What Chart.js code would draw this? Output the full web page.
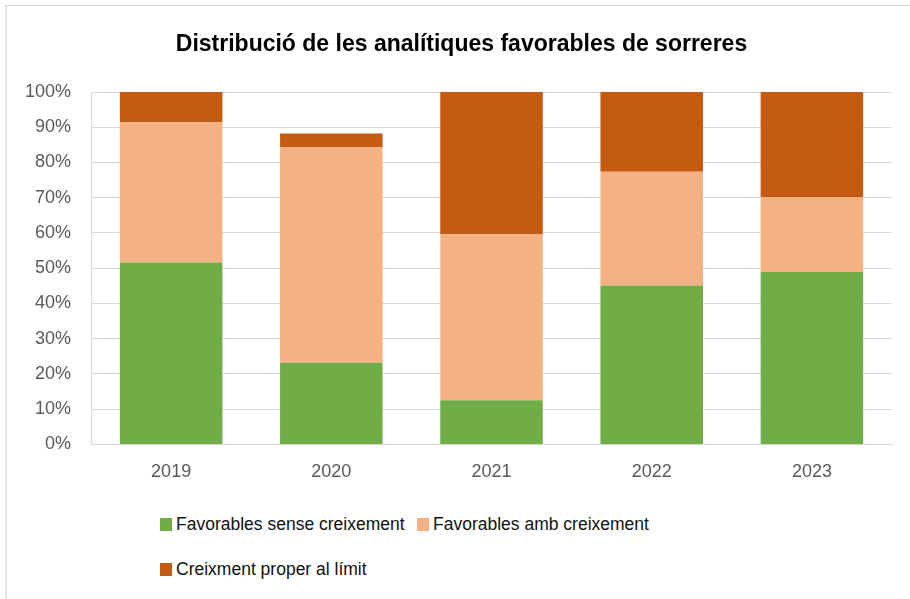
<!DOCTYPE html>
<html>
<head>
<meta charset="utf-8">
<script src="https://cdn.jsdelivr.net/npm/chart.js@4.4.0/dist/chart.umd.min.js"></script>
<style>
    body{margin:0;background:#fff;}
    #wrap{position:relative;width:910px;height:599px;overflow:hidden;}
    #frame{position:absolute;left:5px;top:5px;width:1000px;height:1000px;border-top:1px solid #d9d9d9;border-left:2px solid #e3e3e3;}
    #chart{position:absolute;left:0;top:0;}
    #title{position:absolute;left:0;top:29px;width:923px;text-align:center;font-family:"Liberation Sans",Arial,sans-serif;font-size:23px;font-weight:bold;line-height:28px;color:#000;}
    .item{position:absolute;font-family:"Liberation Sans",Arial,sans-serif;font-size:17.5px;color:#111;white-space:nowrap;line-height:20px;}
    .item i{display:inline-block;width:12px;height:13px;margin-right:4px;vertical-align:-1px;}
</style>
</head>
<body>
<div id="wrap">
    <div id="frame"></div>
    <canvas id="chart" width="910" height="510"></canvas>
    <div id="title"></div>
    <div id="legend"></div>
</div>
<script>
//Data
const chartTitle = 'Distribució de les analítiques favorables de sorreres';
const years = ['2019','2020','2021','2022','2023'];
const seriesNames = ['Favorables sense creixement','Favorables amb creixement','Creixment proper al límit'];
const sense = [51.6, 23.2, 12.5, 45.1, 48.9];
const amb = [39.8, 61.1, 47.1, 32.3, 21.2];
const proper = [8.6, 3.9, 40.4, 22.6, 29.9];
const yTicks = [0,10,20,30,40,50,60,70,80,90,100];

const colors = ['#70AD47','#F4B183','#C55A11'];

document.querySelector('#title').innerText = chartTitle;

const ctx = document.querySelector('#chart');

const theChart = new Chart(ctx,{
    type:'bar',
    data:{
        labels: years,
        datasets:[
            {label: seriesNames[0], data: sense, backgroundColor: colors[0]},
            {label: seriesNames[1], data: amb, backgroundColor: colors[1]},
            {label: seriesNames[2], data: proper, backgroundColor: colors[2]}
        ]
    },
    options:{
        responsive:false,
        animation:false,
        maintainAspectRatio:false,
        datasets:{
            bar:{barPercentage:0.64, categoryPercentage:1}
        },
        layout:{
            padding:{left:5, right:18, top:92, bottom:10}
        },
        plugins:{
            legend:{display:false},
            tooltip:{enabled:false},
            title:{display:false}
        },
        scales:{
            x:{
                stacked:true,
                grid:{display:false, drawTicks:false},
                border:{display:true, color:'#d9d9d9'},
                ticks:{
                    padding:17,
                    color:'#595959',
                    font:{family:'"Liberation Sans", Arial, sans-serif', size:18}
                }
            },
            y:{
                stacked:true,
                min:0,
                max:100,
                afterBuildTicks:(axis)=>{
                    axis.ticks = yTicks.map(v=>({value:v}));
                },
                grid:{color:'#d9d9d9', lineWidth:1, drawTicks:false},
                border:{display:true, color:'#d9d9d9'},
                ticks:{
                    padding:20,
                    color:'#595959',
                    font:{family:'"Liberation Sans", Arial, sans-serif', size:18},
                    callback:(v)=>v+'%'
                }
            }
        }
    }
});

//Legend (Excel style, two rows, left aligned)
const legendPos = [[160,514],[417,514],[160,559]];
const legend = document.querySelector('#legend');
for(let i=0;i<seriesNames.length;i++){
    let el = document.createElement('div');
    el.className = 'item';
    el.style.left = legendPos[i][0]+'px';
    el.style.top = legendPos[i][1]+'px';
    el.innerHTML = `<i style="background:${colors[i]}"></i>${seriesNames[i]}`;
    legend.appendChild(el);
}
</script>
</body>
</html>
